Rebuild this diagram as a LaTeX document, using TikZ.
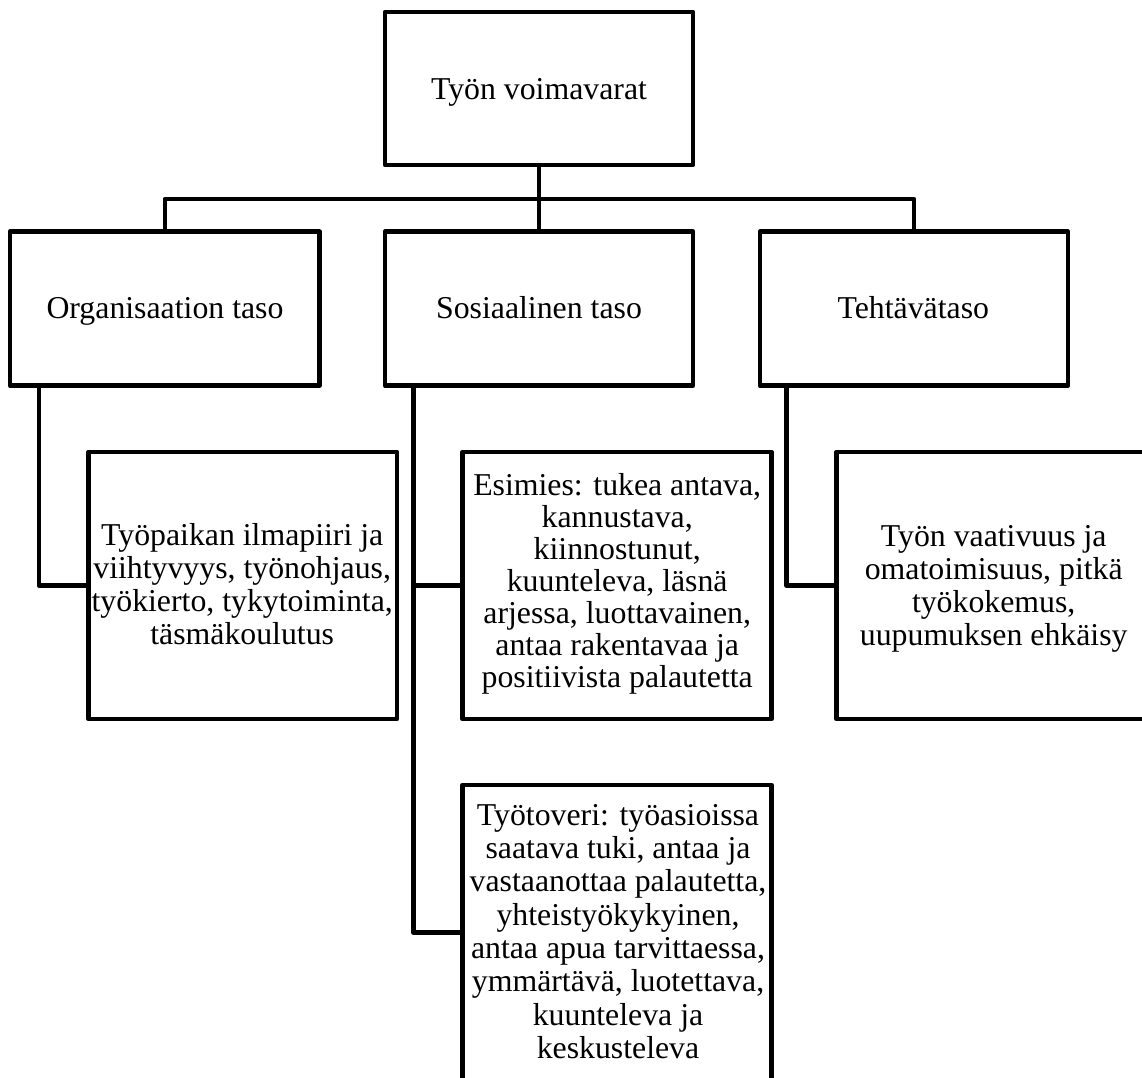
\documentclass[tikz,border=0pt]{standalone}
\usepackage{fontspec}
\setmainfont{Liberation Serif}
\newcommand{\firstln}{\rule{0pt}{25pt}}
\begin{document}
\begin{tikzpicture}[x=1pt,y=-1pt,
  box/.style={draw=black, line width=4.5pt, line join=round, rectangle, inner sep=0pt},
  txt/.style={align=center, inner sep=0pt, anchor=north},
  conn/.style={draw=black, line width=4.5pt, line join=round}]
\useasboundingbox (0,0) rectangle (1142,1077);
% boxes
\node[box, minimum width=308pt, minimum height=153pt] (top) at (539,88.5) {};
\node[box, minimum width=309.5pt, minimum height=154pt] (org) at (164.75,308.7) {};
\node[box, minimum width=308pt, minimum height=154pt] (sos) at (539,308.7) {};
\node[box, minimum width=308pt, minimum height=154pt] (teh) at (913.9,308.7) {};
\node[box, minimum width=308.5pt, minimum height=267pt] (b1) at (242.75,585.5) {};
\node[box, minimum width=309pt, minimum height=267pt] (b2) at (617,585.5) {};
\node[box, minimum width=309pt, minimum height=295pt] (b3) at (617,932.5) {};
\node[box, minimum width=309.5pt, minimum height=267pt] (b4) at (991.25,585.5) {};
% texts
\node[txt, font=\fontsize{31.8}{33}\selectfont] (ttop) at (539,74.3) {\firstln Työn voimavarat};
\node[txt, font=\fontsize{31.8}{33}\selectfont] (torg) at (165,293) {\firstln Organisaation taso};
\node[txt, font=\fontsize{31.8}{33}\selectfont] (tsos) at (539,293) {\firstln Sosiaalinen taso};
\node[txt, font=\fontsize{31.8}{33}\selectfont] (tteh) at (913.3,293) {\firstln Tehtävätaso};
\node[txt, font=\fontsize{31.8}{33}\selectfont] (tb1) at (242.2,520) {\firstln Työpaikan ilmapiiri ja\\viihtyvyys, työnohjaus,\\työkierto, tykytoiminta,\\täsmäkoulutus};
\node[txt, font=\fontsize{31.8}{31.9}\selectfont] (tb2) at (617.2,470.7) {\firstln Esimies: tukea antava,\\kannustava,\\kiinnostunut,\\kuunteleva, läsnä\\arjessa, luottavainen,\\antaa rakentavaa ja\\positiivista palautetta};
\node[txt, font=\fontsize{31.8}{33.3}\selectfont] (tb3) at (618,800) {\firstln Työtoveri: työasioissa\\saatava tuki, antaa ja\\vastaanottaa palautetta,\\yhteistyökykyinen,\\antaa apua tarvittaessa,\\ymmärtävä, luotettava,\\kuunteleva ja\\keskusteleva};
\node[txt, font=\fontsize{31.8}{33}\selectfont] (tb4) at (993.7,521.7) {\firstln Työn vaativuus ja\\omatoimisuus, pitkä\\työkokemus,\\uupumuksen ehkäisy};
% connectors
\coordinate (bus) at (539,199);
\draw[conn] (org.north) |- (bus) -| (teh.north);
\draw[conn] (top.south) -- (sos.north);
\draw[conn] ([xshift=31pt]org.south west) |- (b1.west);
\draw[conn] ([xshift=30.5pt]sos.south west) |- (b2.west);
\draw[conn] ([xshift=30.5pt]sos.south west) |- (b3.west);
\draw[conn] ([xshift=29pt]teh.south west) |- (b4.west);
\end{tikzpicture}
\end{document}
